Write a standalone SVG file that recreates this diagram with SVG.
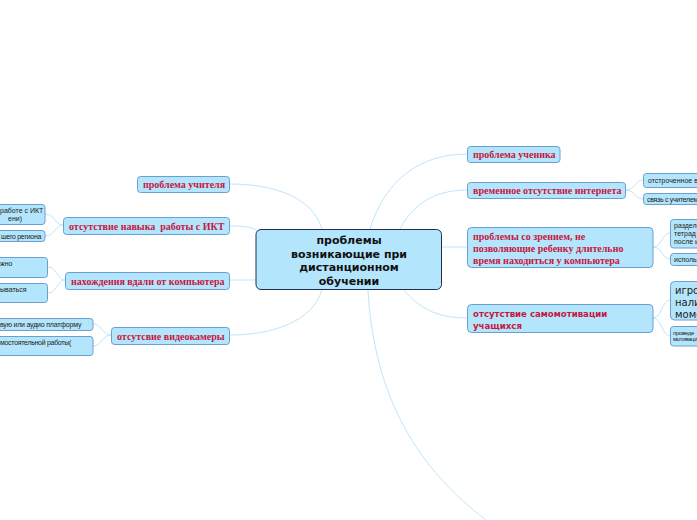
<svg xmlns="http://www.w3.org/2000/svg" width="697" height="520" viewBox="0 0 697 520">
<style>
.bx{fill:#b3e5fc;stroke:#6b9fd0;stroke-width:1}
.ctr{fill:#b3e5fc;stroke:#1f2f4f;stroke-width:1}
.red{font-family:"Liberation Serif",serif;font-weight:bold;font-size:10px;fill:#c8163e}
.redsans{font-family:"DejaVu Sans",Verdana,sans-serif;font-weight:bold;font-size:8.6px;fill:#c8163e}
.ct{font-family:"DejaVu Sans",Verdana,sans-serif;font-weight:bold;font-size:11px;fill:#111;text-anchor:middle}
.sm{font-family:"Liberation Sans",Arial,sans-serif;font-size:7px;fill:#222}
.md{font-family:"DejaVu Sans",Verdana,sans-serif;font-size:10px;fill:#222}
.tn{font-family:"Liberation Sans",Arial,sans-serif;font-size:6px;fill:#222}
.ln{fill:none;stroke:#bfe6f7;stroke-width:1}
</style>
<rect width="697" height="520" fill="#ffffff"/>
<g id="connectors">
<path class="ln" d="M322 229 C312 196 272 184 230 184"/>
<path class="ln" d="M258 231 C250 226 240 226 230 226"/>
<path class="ln" d="M256 280 L230 280"/>
<path class="ln" d="M322 290 C312 322 272 335 230 335"/>
<path class="ln" d="M370 229 C385 180 420 154 467 154"/>
<path class="ln" d="M400 229 C415 200 440 190 467 190"/>
<path class="ln" d="M442 247 L467 247"/>
<path class="ln" d="M403 289 C420 310 440 318 467 318"/>
<path class="ln" d="M368 290 C374 400 420 470 486 520"/>
<path class="ln" d="M63 225 C55 225 55 214 45 214 M63 225 C55 225 55 236 45 236"/>
<path class="ln" d="M65 280 C57 280 57 267 48 267 M65 280 C57 280 57 293 48 293"/>
<path class="ln" d="M111 335 C102 335 102 324 93 324 M111 335 C102 335 102 346 93 346"/>
<path class="ln" d="M626 190 C635 190 635 180 643 180 M626 190 C635 190 635 199 643 199"/>
<path class="ln" d="M653 247 C662 247 662 233 670 233 M653 247 C662 247 662 259 670 259"/>
<path class="ln" d="M653 318 C662 318 662 300 670 300 M653 318 C662 318 662 336 670 336"/>
</g>
<g id="center">
<rect class="ctr" x="256" y="229.5" width="185.5" height="60" rx="5"/>
<text class="ct" x="349" y="244">проблемы</text>
<text class="ct" x="349" y="257.5">возникающие при</text>
<text class="ct" x="349" y="271">дистанционном</text>
<text class="ct" x="349" y="284.5">обучении</text>
</g>
<g id="teacher">
<rect class="bx" x="137.5" y="176.5" width="92" height="16" rx="3"/>
<text class="red" x="143" y="188">проблема учителя</text>
</g>
<g id="ikt">
<rect class="bx" x="63.5" y="217.5" width="166" height="17" rx="3"/>
<text class="red" x="69" y="229.5" xml:space="preserve">отсутствие навыка  работы с ИКТ</text>
</g>
<g id="ikt1">
<rect class="bx" x="-5" y="204.5" width="50" height="20" rx="3"/>
<text class="sm" x="0" y="213">работе с ИКТ</text>
<text class="sm" x="8" y="221">ени)</text>
</g>
<g id="ikt2">
<rect class="bx" x="-5" y="230.5" width="50" height="11" rx="3"/>
<text class="sm" x="1" y="239" letter-spacing="-0.3">шего региона</text>
</g>
<g id="away">
<rect class="bx" x="65.5" y="272.5" width="164" height="17" rx="3"/>
<text class="red" x="71" y="284.5">нахождения вдали от компьютера</text>
</g>
<g id="away1">
<rect class="bx" x="-5" y="257.5" width="52.5" height="20" rx="3"/>
<text class="sm" x="0" y="266">жно</text>
</g>
<g id="away2">
<rect class="bx" x="-5" y="283.5" width="52.5" height="19" rx="3"/>
<text class="sm" x="0" y="292">ываться</text>
</g>
<g id="camera">
<rect class="bx" x="111.5" y="327.5" width="118" height="17" rx="3"/>
<text class="red" x="117" y="339.5">отсутсвие видеокамеры</text>
</g>
<g id="camera1">
<rect class="bx" x="-5" y="318.5" width="98" height="12" rx="3"/>
<text class="sm" x="0" y="327" letter-spacing="-0.2">вую или аудио платформу</text>
</g>
<g id="camera2">
<rect class="bx" x="-5" y="336.5" width="98" height="19" rx="3"/>
<text class="sm" x="0" y="345" letter-spacing="-0.3">мостоятельной работы(</text>
</g>
<g id="student">
<rect class="bx" x="467.5" y="146.5" width="92.5" height="16" rx="3"/>
<text class="red" x="473" y="158">проблема ученика</text>
</g>
<g id="internet">
<rect class="bx" x="467.5" y="182.5" width="158" height="16" rx="3"/>
<text class="red" x="473" y="194">временное отсутствие интернета</text>
</g>
<g id="internet1">
<rect class="bx" x="643.5" y="173.5" width="60" height="14" rx="3"/>
<text class="sm" x="648" y="183">отстроченное в</text>
</g>
<g id="internet2">
<rect class="bx" x="643.5" y="193.5" width="60" height="11" rx="3"/>
<text class="sm" x="647" y="201.5" letter-spacing="-0.3">связь с учителем</text>
</g>
<g id="vision">
<rect class="bx" x="467.5" y="227.5" width="185.5" height="40" rx="4"/>
<text class="red" x="473" y="239.5">проблемы со зрением, не</text>
<text class="red" x="473" y="251.5">позволяющие ребенку длительно</text>
<text class="red" x="473" y="263.5">время находиться у компьютера</text>
</g>
<g id="vision1">
<rect class="bx" x="670.5" y="219.5" width="40" height="28.5" rx="3"/>
<text class="sm" x="674" y="228">разделе</text>
<text class="sm" x="674" y="236">тетрад</text>
<text class="sm" x="674" y="244">после и</text>
</g>
<g id="vision2">
<rect class="bx" x="670.5" y="253.5" width="40" height="12" rx="3"/>
<text class="sm" x="674" y="262">использ</text>
</g>
<g id="motivation">
<rect class="bx" x="467.5" y="304.5" width="185.5" height="28" rx="4"/>
<text class="redsans" x="473" y="317">отсутствие самомотивации</text>
<text class="redsans" x="473" y="328.5">учащихся</text>
</g>
<g id="motivation1">
<rect class="bx" x="670.5" y="281.5" width="40" height="38.5" rx="4"/>
<text class="md" x="675" y="294">игро</text>
<text class="md" x="675" y="306">нали</text>
<text class="md" x="675" y="317.5">моме</text>
</g>
<g id="motivation2">
<rect class="bx" x="670.5" y="326.5" width="40" height="19.5" rx="3"/>
<text class="tn" x="673" y="334.5" letter-spacing="-0.3">проведе</text>
<text class="tn" x="673" y="341" letter-spacing="-0.3">мотиваци</text>
</g>
</svg>
